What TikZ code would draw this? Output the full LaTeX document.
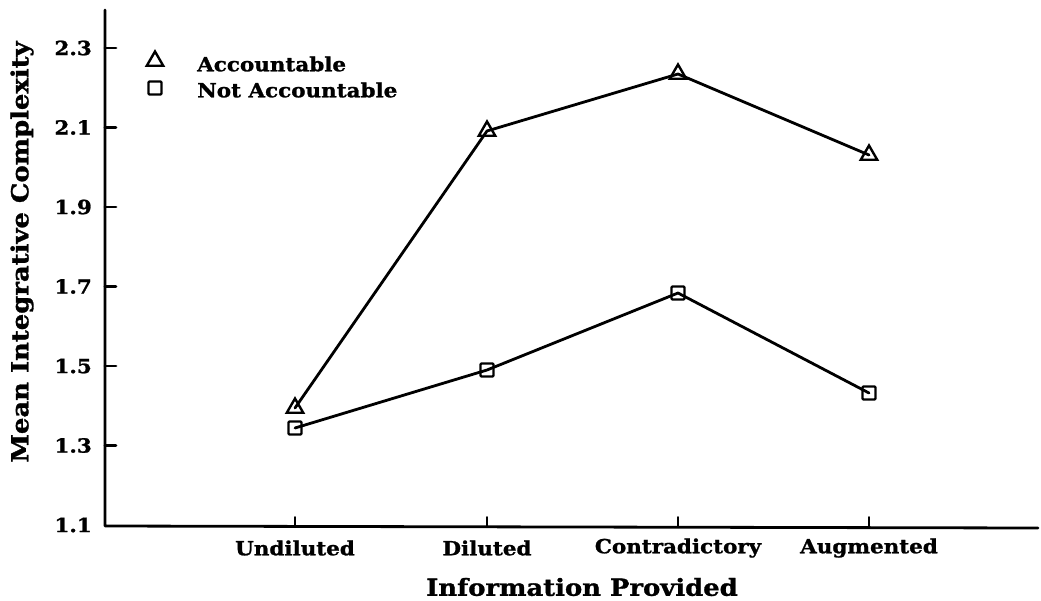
\documentclass[tikz,border=0pt]{standalone}
\usepackage{fontspec}
\setmainfont{DejaVu Serif}
\newfontfamily\plotfont{DejaVu Serif}[BoldFeatures={FakeStretch=1.1,FakeBold=1.2}]
\usetikzlibrary{shapes.geometric}

\begin{document}
\begin{tikzpicture}[x=1pt,y=-1pt,
  ln/.style={line width=2.8pt,line cap=round,line join=round},
  lbl/.style={font=\plotfont\fontsize{19.5}{22}\selectfont\bfseries,inner sep=0pt},
  ttl/.style={font=\plotfont\fontsize{23.5}{26}\selectfont\bfseries,inner sep=0pt},
  tri/.style={regular polygon,regular polygon sides=3,draw,line width=2.4pt,
    minimum size=19pt,inner sep=0pt},
  sq/.style={rectangle,draw,line width=2.4pt,minimum size=13pt,inner sep=0pt,
    rounded corners=1pt}]
\useasboundingbox (0,0) rectangle (1041,600);

% axes
\coordinate (ytop) at (105,10);
\coordinate (orig) at (105,526);
\coordinate (xend) at (1038,528);
\draw[ln] (ytop) -- (orig) -- (xend);

% y ticks and labels
\foreach \v/\y in {2.3/48,2.1/127.5,1.9/207,1.7/286.5,1.5/366,1.3/445.5}{
  \draw[ln] (105,\y) -- (116,\y);
}
\foreach \v/\y in {2.3/48,2.1/127.5,1.9/207,1.7/286.5,1.5/366,1.3/445.5,1.1/525}{
  \node[lbl,anchor=east] at (92,\y) {\v};
}

% x ticks and labels
\foreach \x/\t in {295/Undiluted,487/Diluted,678/Contradictory,869/Augmented}{
  \draw[ln,line width=2pt] (\x,527) -- (\x,517);
  \node[lbl] at (\x,548) {\t};
}

% axis titles
\node[ttl] (xt) at (582,587) {Information Provided};
\node[ttl,rotate=90] (yt) at (22,252) {Mean Integrative Complexity};

% data: accountable
\node[tri] (a1) at (295,408) {};
\node[tri] (a2) at (487,131) {};
\node[tri] (a3) at (678,74) {};
\node[tri] (a4) at (869,155) {};
\draw[ln] (a1.center) -- (a2.center) -- (a3.center) -- (a4.center);

% data: not accountable
\node[sq] (n1) at (295,428) {};
\node[sq] (n2) at (487,370) {};
\node[sq] (n3) at (678,293) {};
\node[sq] (n4) at (869,393) {};
\draw[ln] (n1.center) -- (n2.center) -- (n3.center) -- (n4.center);

% legend
\node[tri] (la) at (155,61) {};
\node[sq] (ln) at (155,88) {};
\node[lbl,anchor=west] (lta) at (197,64) {Accountable};
\node[lbl,anchor=west] (ltn) at (197,90) {Not Accountable};
\end{tikzpicture}
\end{document}
